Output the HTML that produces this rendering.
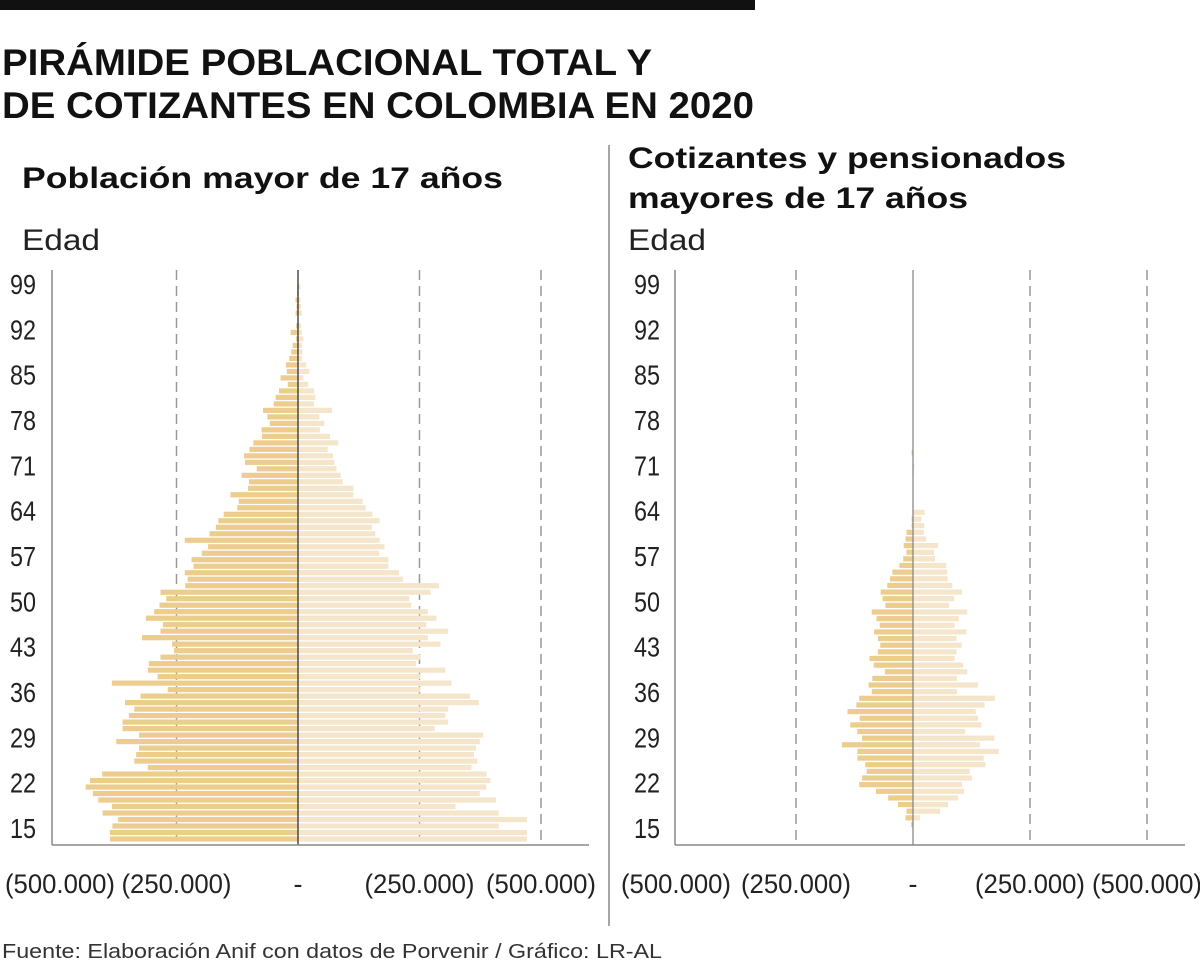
<!DOCTYPE html>
<html><head><meta charset="utf-8"><style>
html,body{margin:0;padding:0;background:#fff;}
svg{display:block;font-family:"Liberation Sans",sans-serif;}
</style></head><body>
<svg id="chart" width="1200" height="965" viewBox="0 0 1200 965" xmlns="http://www.w3.org/2000/svg">
<rect x="0" y="0" width="755" height="10" fill="#111"/>
<text x="2" y="75" font-size="37" font-weight="bold" fill="#111" textLength="650" lengthAdjust="spacingAndGlyphs">PIRÁMIDE POBLACIONAL TOTAL Y</text>
<text x="2" y="118" font-size="37" font-weight="bold" fill="#111" textLength="752" lengthAdjust="spacingAndGlyphs">DE COTIZANTES EN COLOMBIA EN 2020</text>
<text x="22" y="188" font-size="30" font-weight="bold" fill="#111" textLength="481" lengthAdjust="spacingAndGlyphs">Población mayor de 17 años</text>
<text x="628" y="168" font-size="30" font-weight="bold" fill="#111" textLength="438" lengthAdjust="spacingAndGlyphs">Cotizantes y pensionados</text>
<text x="628" y="208" font-size="30" font-weight="bold" fill="#111" textLength="340" lengthAdjust="spacingAndGlyphs">mayores de 17 años</text>
<text x="22" y="250" font-size="30" fill="#222" textLength="78" lengthAdjust="spacingAndGlyphs">Edad</text>
<text x="628" y="250" font-size="30" fill="#222" textLength="78" lengthAdjust="spacingAndGlyphs">Edad</text>
<line x1="609" y1="145" x2="609" y2="926" stroke="#888" stroke-width="1.5"/>
<text x="2" y="958" font-size="20" fill="#333" textLength="660" lengthAdjust="spacingAndGlyphs">Fuente: Elaboración Anif con datos de Porvenir / Gráfico: LR-AL</text>
<g id="left"></g>
<g id="right"></g>
</svg>
<script>
// Left panel: total population (thousands), ages 99 down to 14
const leftAges = [];
for (let a = 99; a >= 14; a--) leftAges.push(a);
const leftMen = [2,2,5,3,5,1,4,15,4,11,14,18,25,23,36,21,39,46,50,72,63,58,75,74,92,100,111,109,85,116,101,103,139,122,125,153,164,169,182,233,185,198,
219,215,233,227,232,283,271,285,296,313,278,283,321,259,255,283,307,309,289,383,268,324,356,337,348,361,361,327,374,327,333,337,309,403,428,437,422,411,383,402,370,382,387,387];
const leftWomen = [5,2,5,6,8,1,6,8,11,8,9,8,17,23,11,21,33,36,33,70,44,54,45,66,83,61,72,75,79,88,92,114,114,133,139,153,168,152,159,168,178,167,
186,186,208,216,290,273,229,233,267,285,264,309,267,293,236,252,243,303,252,316,252,354,372,309,303,309,281,381,374,366,362,369,357,388,396,387,374,407,324,413,471,413,471,471];
// Right panel: contributors and pensioners (thousands)
const rightAges = [73,71,70,69,64,63,62,61,60,59,58,57,56,55,54,53,52,51,50,49,48,47,46,45,44,43,42,41,40,39,38,37,36,35,34,33,32,31,30,29,28,27,26,25,24,23,22,21,20,19,18,17];
const rightMen = [3,1,1,1,0,3,3,14,16,20,14,21,29,44,49,55,69,65,59,88,78,71,83,75,70,75,93,84,60,87,95,88,115,121,140,114,134,119,109,152,119,119,102,99,109,115,79,53,32,14,16,4];
const rightWomen = [1,3,2,1,25,18,24,23,28,54,45,47,71,73,74,84,105,88,77,116,98,89,114,93,104,93,89,107,116,94,139,94,175,153,134,139,146,111,174,143,183,151,155,121,126,105,109,96,75,58,15,0];
const tickVals = [-500,-250,0,250,500];
const tickLabels = ["(500.000)","(250.000)","-","(250.000)","(500.000)"];
const gridVals = [-250,250,500];
const ageTicks = [99,92,85,78,71,64,57,50,43,36,29,22,15];

const NS = "http://www.w3.org/2000/svg";
function mk(parent, tag, attrs){const e=document.createElementNS(NS,tag);for(const k in attrs)e.setAttribute(k,attrs[k]);parent.appendChild(e);return e;}
const labelY = a => 284 + (99 - a) * 6.476;

function panel(gid, cfg){
  const g = document.getElementById(gid);
  const xs = v => cfg.zero + v * cfg.k;
  gridVals.forEach(v=>{
    const l = mk(g,'line',{x1:xs(v),y1:270,x2:xs(v),y2:840,stroke:'#999','stroke-width':1.5,'stroke-dasharray':'10,6'});
    
    
  });
  cfg.ages.forEach((a,i)=>{
    const y = cfg.y(a);
    const m = mk(g,'rect',{x:xs(-cfg.men[i]),y:y-2.6,width:cfg.men[i]*cfg.k,height:5.2,fill:'#EDCD8E'});
    
    
    const w = mk(g,'rect',{x:xs(0),y:y-2.6,width:cfg.women[i]*cfg.k,height:5.2,fill:'#F4E5CB'});
    
    
  });
  const z = mk(g,'line',{x1:xs(0),y1:270,x2:xs(0),y2:845,stroke:cfg.zc,'stroke-width':1.3});
  
  
  const ya = mk(g,'line',{x1:cfg.axL,y1:270,x2:cfg.axL,y2:845,stroke:'#888','stroke-width':1.5});
  
  
  const xa = mk(g,'line',{x1:cfg.axL,y1:845,x2:cfg.axR,y2:845,stroke:'#888','stroke-width':1.5});
  
  
  ageTicks.forEach(a=>{
    const t = mk(g,'text',{x:cfg.lx,y:labelY(a)+10,'font-size':28,fill:'#222'});
    t.textContent = a;
    t.setAttribute('textLength','26');
    t.setAttribute('lengthAdjust','spacingAndGlyphs');
    
    
  });
  tickVals.forEach((v,i)=>{
    const cx = i===0 ? cfg.firstX : xs(v);
    const t = mk(g,'text',{x:cx,y:893,'font-size':27,fill:'#222','text-anchor':'middle'});
    t.textContent = tickLabels[i];
    if(tickLabels[i].length>1){t.setAttribute('textLength','110');t.setAttribute('lengthAdjust','spacingAndGlyphs');}
    
    
  });
}
panel('left',{zero:298,k:121.5/250,ages:leftAges,men:leftMen,women:leftWomen,y:a=>287+(99-a)*6.494,zc:'#333',axL:52,axR:589,lx:10,firstX:60});
panel('right',{zero:913,k:117/250,ages:rightAges,men:rightMen,women:rightWomen,y:a=>280+(99-a)*6.64,zc:'#888',axL:675,axR:1185,lx:634,firstX:676});
</script>
</body></html>
